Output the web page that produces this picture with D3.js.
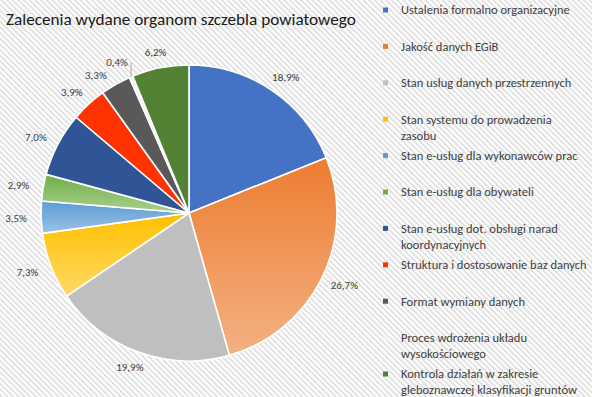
<!DOCTYPE html>
<html>
<head>
<meta charset="utf-8">
<script src="https://cdn.jsdelivr.net/npm/d3@7"></script>
<style>
  body{ margin:0; background:#fff; }
  svg text{ font-family: Carlito, Lato, "Open Sans", sans-serif; }
</style>
</head>
<body>
<div id="chart"></div>
<script>
  // data
  var categories = [
    "Ustalenia formalno organizacyjne",
    "Jakość danych EGiB",
    "Stan usług danych przestrzennych",
    "Stan systemu do prowadzenia\nzasobu",
    "Stan e-usług dla wykonawców prac",
    "Stan e-usług dla obywateli",
    "Stan e-usług dot. obsługi narad\nkoordynacyjnych",
    "Struktura i dostosowanie baz danych",
    "Format wymiany danych",
    "Proces wdrożenia układu\nwysokościowego",
    "Kontrola działań w zakresie\ngleboznawczej klasyfikacji gruntów"
  ];
  var values = [18.9, 26.7, 19.9, 7.3, 3.5, 2.9, 7.0, 3.9, 3.3, 0.4, 6.2];
  var colorsTop = ["#4472c4","#ed7d31","#bfbfbf","#ffc000","#5b9bd5","#70ad47","#2f5597","#ff3300","#595959","#f2f2f2","#548235"];
  var colorsBottom = ["#4472c4","#f4b183","#bfbfbf","#ffd966","#9dc3e6","#a9d18e","#2f5597","#ff3300","#595959","#f2f2f2","#548235"];
  var title = "Zalecenia wydane organom szczebla powiatowego";

  var width = 592, height = 397;
  var cx = 189, cy = 213, r = 148;

  var svg = d3.select("#chart").append("svg")
      .attr("width", width)
      .attr("height", height);

  var defs = svg.append("defs");
  // striped background like excel pattern fill
  var pat = defs.append("pattern")
      .attr("id","stripes")
      .attr("width",4).attr("height",4)
      .attr("patternUnits","userSpaceOnUse")
      .attr("patternTransform","rotate(-45)");
  pat.append("rect").attr("width",4).attr("height",4).attr("fill","#ffffff");
  pat.append("rect").attr("width",1.6).attr("height",4).attr("fill","#dcdcdc");

  svg.append("rect").attr("width",width).attr("height",height).attr("fill","url(#stripes)");

  values.forEach(function(v,i){
    var g = defs.append("linearGradient")
        .attr("id","grad"+i)
        .attr("x1",0).attr("y1",0).attr("x2",0).attr("y2",1);
    g.append("stop").attr("offset","0%").attr("stop-color",colorsTop[i]);
    g.append("stop").attr("offset","100%").attr("stop-color",colorsBottom[i]);
  });

  svg.append("text")
      .attr("x",6).attr("y",25)
      .attr("font-size",17.2)
      .attr("fill","#1a1a1a")
      .text(title);

  var pie = d3.pie().sort(null).value(function(d){ return d; });
  var arcs = pie(values);
  var arc = d3.arc().innerRadius(0).outerRadius(r);

  var pieG = svg.append("g").attr("transform","translate("+cx+","+cy+")");

  pieG.selectAll("path")
    .data(arcs)
    .enter()
    .append("path")
    .attr("d",arc)
    .attr("fill",function(d,i){ return "url(#grad"+i+")"; })
    .attr("stroke","#ffffff")
    .attr("stroke-width",1.6)
    .attr("stroke-linejoin","round");

  // labels outside end
  var lr = r + 10;
  function labelPos(a){
    var s = Math.sin(a), c = -Math.cos(a);
    return {x: lr*s + 15*s, y: lr*c + 6*c};
  }
  var labels = arcs.map(function(d){
    var a = (d.startAngle + d.endAngle)/2;
    var p = labelPos(a);
    return {a:a, x:p.x, y:p.y, v:d.value};
  });
  // small slice label sits left of its leader line
  labels.forEach(function(l){
    if (l.v < 1){
      l.ex = r*Math.sin(l.a); l.ey = -r*Math.cos(l.a);
      l.x = l.ex - 14;
    }
  });
  // push overlapping labels back along the circle
  for (var i = labels.length-2; i >= 0; i--){
    var n = labels[i+1];
    while (Math.abs(labels[i].x - n.x) < 26 && Math.abs(labels[i].y - n.y) < 12){
      labels[i].a -= 0.01;
      var p = labelPos(labels[i].a);
      labels[i].x = p.x; labels[i].y = p.y;
    }
  }

  labels.forEach(function(l){
    var txt = d3.format(".1f")(l.v).replace(".",",") + "%";
    pieG.append("text")
      .attr("x",l.x).attr("y",l.y)
      .attr("dy","0.35em")
      .attr("text-anchor","middle")
      .attr("font-size",11)
      .attr("fill","#404040")
      .text(txt);
    if (l.v < 1){
      pieG.append("line")
        .attr("x1",l.ex).attr("y1",l.ey)
        .attr("x2",l.ex).attr("y2",l.y+1)
        .attr("stroke","#a6a6a6").attr("stroke-width",1);
    }
  });

  // legend
  var legY0 = 10, legStep = 36.4;
  var leg = svg.append("g");
  categories.forEach(function(name,i){
    var y = legY0 + i*legStep;
    leg.append("rect")
      .attr("x",383).attr("y",y-2.5)
      .attr("width",5).attr("height",5)
      .attr("fill",colorsTop[i]);
    var t = leg.append("text")
      .attr("x",401).attr("y",y)
      .attr("font-size",12.5)
      .attr("fill","#404040");
    name.split("\n").forEach(function(line,j){
      t.append("tspan").attr("x",401).attr("dy", j==0 ? "0.35em" : "16px").text(line);
    });
  });
</script>
</body>
</html>
